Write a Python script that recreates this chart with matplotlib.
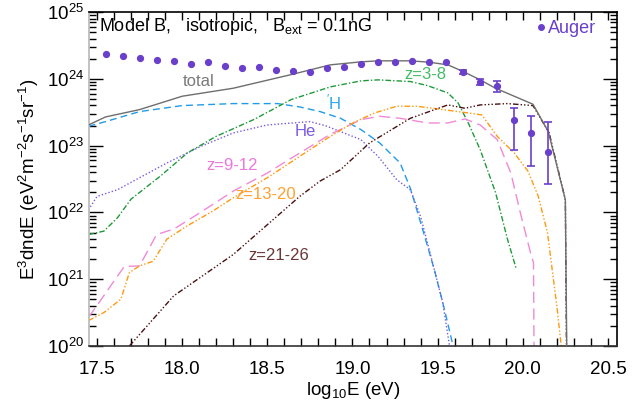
import numpy as np
import matplotlib
matplotlib.use("Agg")
import matplotlib.pyplot as plt
from matplotlib.ticker import LogLocator, NullFormatter, MultipleLocator, FixedLocator

plt.rcParams["font.family"] = ["Liberation Sans", "DejaVu Sans"]
plt.rcParams["mathtext.fontset"] = "custom"
plt.rcParams["mathtext.rm"] = "Liberation Sans"
plt.rcParams["mathtext.it"] = "Liberation Sans"

# Auger data: log10 E and log10 flux, error bar bounds (log10)
auger_logE = [17.55, 17.65, 17.75, 17.85, 17.95, 18.05, 18.15, 18.25, 18.35, 18.45,
              18.55, 18.65, 18.75, 18.85, 18.95, 19.05, 19.15, 19.25, 19.35, 19.45,
              19.55, 19.65, 19.75, 19.85, 19.95, 20.05, 20.15]
auger_logF = [24.37, 24.35, 24.31, 24.29, 24.27, 24.23, 24.25, 24.19, 24.16, 24.18,
              24.14, 24.12, 24.11, 24.16, 24.18, 24.22, 24.25, 24.26, 24.27, 24.25,
              24.26, 24.10, 23.96, 23.89, 23.39, 23.19, 22.91]
auger_err_logE = [19.65, 19.75, 19.85, 19.95, 20.05, 20.15]
auger_err_lo = [24.07, 23.91, 23.81, 22.94, 22.69, 22.43]
auger_err_hi = [24.13, 24.00, 23.97, 23.56, 23.45, 23.36]

# model curves (log10 E, log10 E^3 dn/dE)
total_logE = [17.45, 17.55, 17.75, 18.0, 18.3, 18.65, 18.87, 19.05, 19.15, 19.34,
              19.45, 19.56, 19.65, 19.75, 19.84, 20.06, 20.15, 20.25, 20.26]
total_logF = [23.31, 23.43, 23.54, 23.74, 23.86, 24.07, 24.21, 24.255, 24.27, 24.27,
              24.25, 24.21, 24.11, 23.985, 23.86, 23.62, 23.21, 22.19, 19.5]

h_logE = [17.45, 17.55, 17.75, 18.0, 18.3, 18.56, 18.69, 18.81, 18.93, 19.05,
          19.16, 19.28, 19.34, 19.4, 19.48, 19.54, 19.6]
h_logF = [23.29, 23.36, 23.51, 23.60, 23.63, 23.63, 23.58, 23.51, 23.41, 23.24,
          23.04, 22.74, 22.36, 21.85, 21.15, 20.55, 19.9]

he_logE = [17.45, 17.5, 17.62, 17.75, 17.91, 18.11, 18.30, 18.50, 18.75, 18.84,
           18.93, 19.05, 19.15, 19.26, 19.34, 19.40, 19.46, 19.53, 19.57]
he_logF = [22.04, 22.24, 22.34, 22.52, 22.74, 22.99, 23.19, 23.31, 23.36, 23.30,
           23.21, 23.09, 22.84, 22.49, 22.34, 21.94, 21.35, 20.65, 20.0]

z38_logE = [17.45, 17.54, 17.62, 17.70, 17.87, 18.03, 18.20, 18.42, 18.64, 18.87,
            19.05, 19.15, 19.34, 19.44, 19.56, 19.62, 19.68, 19.75, 19.84, 19.91, 19.96]
z38_logF = [21.67, 21.72, 21.92, 22.20, 22.54, 22.89, 23.14, 23.39, 23.69, 23.88,
            23.97, 23.985, 23.96, 23.90, 23.79, 23.64, 23.34, 22.94, 22.30, 21.60, 21.17]

z912_logE = [17.45, 17.52, 17.58, 17.66, 17.75, 17.85, 17.95, 18.07, 18.18, 18.30,
             18.50, 18.69, 18.87, 19.05, 19.16, 19.28, 19.44, 19.56, 19.66, 19.75,
             19.85, 19.93, 19.99, 20.05, 20.063, 20.067]
z912_logF = [20.43, 20.68, 20.90, 21.19, 21.20, 21.67, 21.75, 21.94, 22.12, 22.32,
             22.59, 22.89, 23.17, 23.39, 23.44, 23.41, 23.34, 23.34, 23.40, 23.31,
             23.09, 22.59, 21.95, 21.35, 21.25, 19.5]

z1320_logE = [17.45, 17.54, 17.64, 17.69, 17.75, 17.83, 17.91, 18.03, 18.18, 18.30,
              18.50, 18.69, 18.87, 19.01, 19.13, 19.26, 19.38, 19.56, 19.68, 19.76,
              19.85, 19.95, 20.03, 20.09, 20.145, 20.18, 20.20, 20.23]
z1320_logF = [20.38, 20.50, 20.70, 21.10, 21.20, 21.27, 21.60, 21.80, 22.02, 22.22,
              22.52, 22.84, 23.14, 23.35, 23.49, 23.59, 23.59, 23.53, 23.49, 23.46,
              23.14, 22.89, 22.62, 22.25, 21.70, 21.00, 20.60, 19.9]

z2126_logE = [17.69, 17.95, 18.30, 18.69, 18.81, 18.93, 19.10, 19.34, 19.56, 19.66,
              19.75, 19.91, 20.06, 20.155, 20.25, 20.258]
z2126_logF = [20.0, 20.75, 21.37, 22.24, 22.47, 22.64, 23.04, 23.41, 23.61, 23.56,
              23.61, 23.63, 23.60, 23.19, 22.19, 19.5]

AUGER = "#6a3fcc"

fig = plt.figure(figsize=(6.44, 4.03), dpi=100)
ax = fig.add_axes([0.1382, 0.1414, 0.8198, 0.8286])


def curve(logE, logF, **kw):
    ax.plot(logE, 10.0 ** np.asarray(logF), lw=1.0, **kw)


curve(h_logE, h_logF, color="#1f9be8", ls=(0, (5, 3)))
curve(he_logE, he_logF, color="#7a5ae0", ls=(0, (1, 1.5)))
curve(z38_logE, z38_logF, color="#1f9a3a", ls=(0, (4, 1.5, 1, 1.5)))
curve(z912_logE, z912_logF, color="#f08ad8", ls=(0, (8, 4)))
curve(z1320_logE, z1320_logF, color="#ff9a10", ls=(0, (4, 1.5, 1, 1.5, 1, 1.5)))
curve(z2126_logE, z2126_logF, color="#4a0f0f", ls=(0, (4, 1.5, 1, 1.5, 1, 1.5, 1, 1.5)))
curve(total_logE, total_logF, color="#6e6e6e", ls="-", zorder=3)

F = 10.0 ** np.asarray(auger_logF)
ax.plot(auger_logE, F, "o", color=AUGER, ms=4.2, zorder=5)
idx = [auger_logE.index(e) for e in auger_err_logE]
yc = F[idx]
ylo = yc - 10.0 ** np.asarray(auger_err_lo)
yhi = 10.0 ** np.asarray(auger_err_hi) - yc
ax.errorbar(auger_err_logE, yc, yerr=[ylo, yhi], fmt="none", ecolor=AUGER,
            elinewidth=1.2, capsize=3, capthick=1.2, zorder=5)

ax.set_yscale("log")
ax.set_xlim(17.453, 20.553)
ax.set_ylim(1e20, 1e25)

ax.xaxis.set_major_locator(FixedLocator([17.5, 18.0, 18.5, 19.0, 19.5, 20.0, 20.5]))
ax.xaxis.set_minor_locator(MultipleLocator(0.1))
ax.yaxis.set_major_locator(LogLocator(base=10, numticks=10))
ax.yaxis.set_minor_locator(LogLocator(base=10, subs=np.arange(2, 10), numticks=20))
ax.yaxis.set_minor_formatter(NullFormatter())
ax.tick_params(which="both", direction="in", top=True, right=True, labelsize=13.5)
ax.tick_params(axis="x", which="both", length=6, width=1)
ax.tick_params(axis="x", which="major", pad=11)
ax.tick_params(axis="y", which="major", length=10, width=1)
ax.tick_params(axis="y", which="minor", length=5, width=1)
ax.set_xticklabels(["17.5", "18.0", "18.5", "19.0", "19.5", "20.0", "20.5"])

for s in ax.spines.values():
    s.set_linewidth(1.2)
ax.spines["left"].set_color("#b8b8b8")
ax.spines["bottom"].set_color("#333333")

ax.set_xlabel("log$_{10}$E (eV)", fontsize=13.5, labelpad=1)
ax.set_ylabel("E$^3$dndE (eV$^2$m$^{-2}$s$^{-1}$sr$^{-1}$)", fontsize=13.5, labelpad=4)

ax.text(17.51, 10 ** 24.78, "Model B,   isotropic,   B$_{\\rm ext}$ = 0.1nG",
        fontsize=13, va="center", ha="left")
ax.plot([20.106], [10 ** 24.77], "o", color=AUGER, ms=4)
ax.text(20.15, 10 ** 24.76, "Auger", color=AUGER, fontsize=13, va="center", ha="left")

ax.text(18.094, 10 ** 23.96, "total", color="#7a7a7a", fontsize=12, ha="center", va="center")
ax.text(19.43, 10 ** 24.07, "z=3-8", color="#44bb66", fontsize=12, ha="center", va="center")
ax.text(18.89, 10 ** 23.64, "$^{\\prime}$H", color="#2aa6ee", fontsize=12, ha="center", va="center")
ax.text(18.72, 10 ** 23.21, "He", color="#7a5ae0", fontsize=12, ha="center", va="center")
ax.text(18.294, 10 ** 22.70, "z=9-12", color="#ee77dd", fontsize=12, ha="center", va="center")
ax.text(18.49, 10 ** 22.27, "z=13-20", color="#ffa030", fontsize=12, ha="center", va="center")
ax.text(18.57, 10 ** 21.36, "z=21-26", color="#6b3535", fontsize=12, ha="center", va="center")

fig.savefig("out.png", dpi=100)
